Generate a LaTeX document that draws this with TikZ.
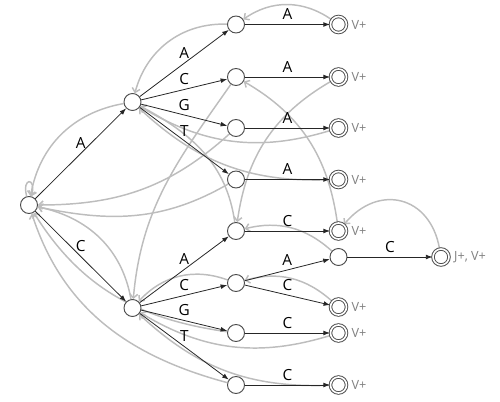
\documentclass[tikz,border=0pt]{standalone}
\usepackage{fontspec}
\setmainfont{Open Sans}
\usetikzlibrary{arrows.meta,backgrounds}

\begin{document}
\begin{tikzpicture}[
    x=0.75pt,
    y=0.75pt,
    state/.style={circle, draw=black!70, line width=0.7pt, fill=white,
      inner sep=0pt, minimum size=12.75pt},
    accept/.style={state, double, double distance=1.2pt, minimum size=12pt},
    vlbl/.style={text=black!50, font=\fontsize{9.5}{10}\selectfont,
      inner sep=1pt},
    final/.style={accept, label={[vlbl, label distance=2.3pt]right:V+}},
    tr/.style={draw=black!85, line width=0.6pt,
      -{Latex[length=5pt,width=3.6pt]}},
    fl/.style={draw=black!26, line width=1.1pt,
      -{Straight Barb[length=3pt,width=6pt]}},
    lbl/.style={midway, yshift=7.5pt, inner sep=0pt,
      font=\fontsize{11.5}{12}\selectfont}
  ]

  \useasboundingbox (0,0) rectangle (500,402);

  % --- 1. columns of the trie ---
  \def\xR{29}
  \def\xI{132.5}
  \def\xII{236}
  \def\xIII{338.5}
  \def\xIV{441}

  % --- 2. states ---
  \node[state] (n) at (\xR, 197) {};

  \node[state] (nA) at (\xI, 300) {};
  \node[state] (nC) at (\xI, 94) {};

  \node[state] (nAA) at (\xII, 377.5) {};
  \node[state] (nAC) at (\xII, 325) {};
  \node[state] (nAG) at (\xII, 274) {};
  \node[state] (nAT) at (\xII, 222.5) {};
  \node[state] (nCA) at (\xII, 171) {};
  \node[state] (nCC) at (\xII, 119) {};
  \node[state] (nCG) at (\xII, 69) {};
  \node[state] (nCT) at (\xII, 17) {};

  \node[final] (nAAA) at (\xIII, 377.5) {};
  \node[final] (nACA) at (\xIII, 325) {};
  \node[final] (nAGA) at (\xIII, 274) {};
  \node[final] (nATA) at (\xIII, 222.5) {};
  \node[final] (nCAC) at (\xIII, 171) {};
  \node[state] (nCCA) at (\xIII, 145) {};
  \node[final] (nCCC) at (\xIII, 95) {};
  \node[final] (nCGC) at (\xIII, 69) {};
  \node[final] (nCTC) at (\xIII, 17) {};

  \node[accept, label={[vlbl, label distance=2.3pt]right:{J+, V+}}]
    (nCCAC) at (\xIV, 145) {};

  % --- 3. failure links (gray, behind the states) ---
  \begin{scope}[on background layer]
    \draw[fl] (n) to[out=105, in=75, min distance=15pt, looseness=8] (n);

    % depth 1
    \draw[fl] (nA) to[out=190, in=80] (n);
    \draw[fl] (nC) to[out=100, in=-12] (n);

    % depth 2
    \draw[fl] (nAA) to[out=178, in=75] (nA);
    \draw[fl] (nAC) to[out=235, in=85] (nC);
    \draw[fl] (nAG) to[out=222, in=0] (n);
    \draw[fl] (nAT) to[out=210, in=-12] (n);
    \draw[fl] (nCA) to[out=98, in=-28] (nA);
    \draw[fl] (nCC) to[out=160, in=47] (nC);
    \draw[fl] (nCG) to[out=172, in=-58] (n);
    \draw[fl] (nCT) to[out=165, in=-72] (n);

    % depth 3
    \draw[fl] (nAAA) to[out=145, in=35] (nAA);
    \draw[fl] (nACA) to[out=210, in=82] (nCA);
    \draw[fl] (nAGA) to[out=197, in=-31] (nA);
    \draw[fl] (nATA) to[out=182, in=-43] (nA);
    \draw[fl] (nCAC) to[out=98, in=-30] (nAC);
    \draw[fl] (nCCA) to[out=138, in=14] (nCA);
    \draw[fl] (nCCC) to[out=138, in=16] (nCC);
    \draw[fl] (nCGC) to[out=197, in=-31] (nC);
    \draw[fl] (nCTC) to[out=182, in=-43] (nC);

    % depth 4
    \draw[fl] (nCCAC) to[out=100, in=50, looseness=1.4] (nCAC);
  \end{scope}

  % --- 4. transitions ---
  \draw[tr] (n) -- node[lbl] {A} (nA);
  \draw[tr] (n) -- node[lbl] {C} (nC);

  \draw[tr] (nA) -- node[lbl] {A} (nAA);
  \draw[tr] (nA) -- node[lbl] {C} (nAC);
  \draw[tr] (nA) -- node[lbl] {G} (nAG);
  \draw[tr] (nA) -- node[lbl] {T} (nAT);
  \draw[tr] (nC) -- node[lbl] {A} (nCA);
  \draw[tr] (nC) -- node[lbl] {C} (nCC);
  \draw[tr] (nC) -- node[lbl] {G} (nCG);
  \draw[tr] (nC) -- node[lbl] {T} (nCT);

  \draw[tr] (nAA) -- node[lbl] {A} (nAAA);
  \draw[tr] (nAC) -- node[lbl] {A} (nACA);
  \draw[tr] (nAG) -- node[lbl] {A} (nAGA);
  \draw[tr] (nAT) -- node[lbl] {A} (nATA);
  \draw[tr] (nCA) -- node[lbl] {C} (nCAC);
  \draw[tr] (nCC) -- node[lbl] {A} (nCCA);
  \draw[tr] (nCC) -- node[lbl] {C} (nCCC);
  \draw[tr] (nCG) -- node[lbl] {C} (nCGC);
  \draw[tr] (nCT) -- node[lbl] {C} (nCTC);

  \draw[tr] (nCCA) -- node[lbl] {C} (nCCAC);

\end{tikzpicture}
\end{document}
